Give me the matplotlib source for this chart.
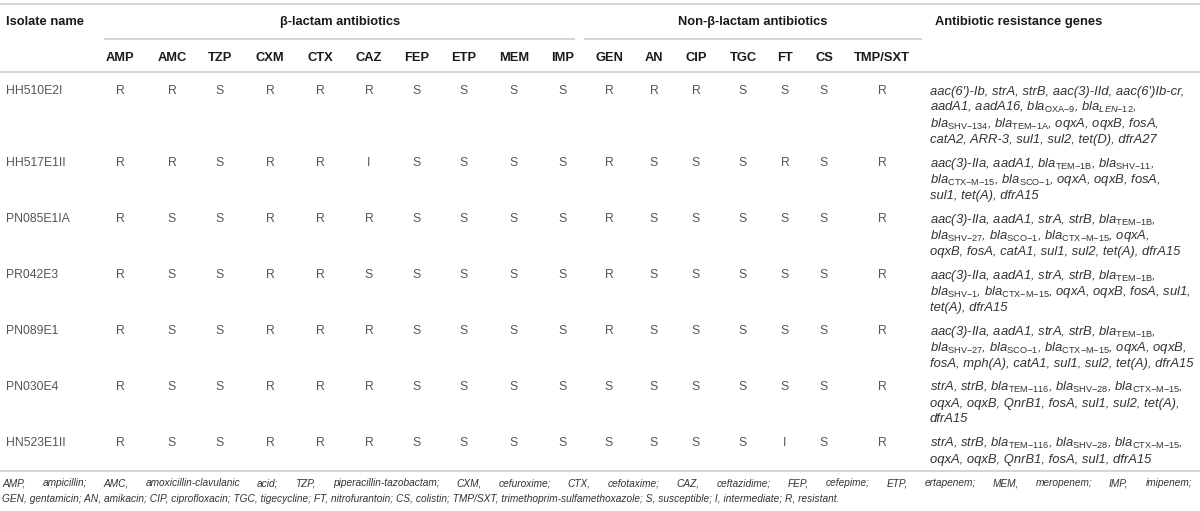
import matplotlib.pyplot as plt

plt.rcParams['font.family'] = ['Liberation Sans', 'DejaVu Sans']
plt.rcParams['mathtext.fontset'] = 'custom'
plt.rcParams['mathtext.rm'] = 'Liberation Sans'
plt.rcParams['mathtext.it'] = 'Liberation Sans:italic'
plt.rcParams['mathtext.bf'] = 'Liberation Sans:bold'

# ---- data ----
isolates = ["HH510E2I", "HH517E1II", "PN085E1IA", "PR042E3", "PN089E1", "PN030E4", "HN523E1II"]
beta_lactams = ["AMP", "AMC", "TZP", "CXM", "CTX", "CAZ", "FEP", "ETP", "MEM", "IMP"]
non_beta_lactams = ["GEN", "AN", "CIP", "TGC", "FT", "CS", "TMP/SXT"]
results = [
    "RRSRRRSSSS" + "RRRSSSR",
    "RRSRRISSSS" + "RSSSRSR",
    "RSSRRRSSSS" + "RSSSSSR",
    "RSSRRSSSSS" + "RSSSSSR",
    "RSSRRRSSSS" + "RSSSSSR",
    "RSSRRRSSSS" + "SSSSSSR",
    "RSSRRRSSSS" + "SSSSISR",
]
genes = [
    ["aac(6')-Ib, strA, strB, aac(3)-IId, aac(6')Ib-cr,",
     r"aadA1, aadA16, bla$_{\mathrm{OXA{-}9}}$, bla$_{\mathit{LEN{-}12}}$,",
     r"bla$_{\mathrm{SHV{-}134}}$, bla$_{\mathrm{TEM{-}1A}}$, oqxA, oqxB, fosA,",
     "catA2, ARR-3, sul1, sul2, tet(D), dfrA27"],
    [r"aac(3)-IIa, aadA1, bla$_{\mathrm{TEM{-}1B}}$, bla$_{\mathrm{SHV{-}11}}$,",
     r"bla$_{\mathrm{CTX{-}M{-}15}}$, bla$_{\mathrm{SCO{-}1}}$, oqxA, oqxB, fosA,",
     "sul1, tet(A), dfrA15"],
    [r"aac(3)-IIa, aadA1, strA, strB, bla$_{\mathrm{TEM{-}1B}}$,",
     r"bla$_{\mathrm{SHV{-}27}}$, bla$_{\mathrm{SCO{-}1}}$, bla$_{\mathrm{CTX{-}M{-}15}}$, oqxA,",
     "oqxB, fosA, catA1, sul1, sul2, tet(A), dfrA15"],
    [r"aac(3)-IIa, aadA1, strA, strB, bla$_{\mathrm{TEM{-}1B}}$,",
     r"bla$_{\mathrm{SHV{-}1}}$, bla$_{\mathrm{CTX{-}M{-}15}}$, oqxA, oqxB, fosA, sul1,",
     "tet(A), dfrA15"],
    [r"aac(3)-IIa, aadA1, strA, strB, bla$_{\mathrm{TEM{-}1B}}$,",
     r"bla$_{\mathrm{SHV{-}27}}$, bla$_{\mathrm{SCO{-}1}}$, bla$_{\mathrm{CTX{-}M{-}15}}$, oqxA, oqxB,",
     "fosA, mph(A), catA1, sul1, sul2, tet(A), dfrA15"],
    [r"strA, strB, bla$_{\mathrm{TEM{-}116}}$, bla$_{\mathrm{SHV{-}28}}$, bla$_{\mathrm{CTX{-}M{-}15}}$,",
     "oqxA, oqxB, QnrB1, fosA, sul1, sul2, tet(A),",
     "dfrA15"],
    [r"strA, strB, bla$_{\mathrm{TEM{-}116}}$, bla$_{\mathrm{SHV{-}28}}$, bla$_{\mathrm{CTX{-}M{-}15}}$,",
     "oqxA, oqxB, QnrB1, fosA, sul1, dfrA15"],
]
footnote = [
    "AMP, ampicillin; AMC, amoxicillin-clavulanic acid; TZP, piperacillin-tazobactam; CXM, cefuroxime; "
    "CTX, cefotaxime; CAZ, ceftazidime; FEP, cefepime; ETP, ertapenem; MEM, meropenem; IMP, imipenem;",
    "GEN, gentamicin; AN, amikacin; CIP, ciprofloxacin; TGC, tigecycline; FT, nitrofurantoin; CS, colistin; "
    "TMP/SXT, trimethoprim-sulfamethoxazole; S, susceptible; I, intermediate; R, resistant.",
]

# ---- layout ----
col_x = [120, 172, 220, 270, 320, 369, 417, 464, 514, 563,
         609, 654, 696, 743, 785, 824, 882]
gene_x = 930
gene_max_w = 264
line_h = 16
row_gap = 8
first_row = 90
grid_col = '#d2d2d2'
hdr = dict(fontweight='bold', fontsize=9.3, color='#1a1a1a')
body = dict(fontsize=8.8, color='#555555')

fig = plt.figure(figsize=(12, 5.11), dpi=100)
ax = fig.add_axes([0, 0, 1, 1])
ax.set_xlim(0, 1200)
ax.set_ylim(511, 0)
ax.axis('off')
renderer = fig.canvas.get_renderer()


def hline(y, x0=0, x1=1200):
    ax.plot([x0, x1], [y, y], color=grid_col, lw=1.3, solid_capstyle='butt')


hline(4)
hline(39, 104, 575)
hline(39, 584, 922)
hline(72)

ax.text(6, 25, "Isolate name", ha='left', va='baseline', **hdr)
ax.text(340, 25, "β-lactam antibiotics", ha='center', va='baseline', **hdr)
ax.text(753, 25, "Non-β-lactam antibiotics", ha='center', va='baseline', **hdr)
ax.text(935, 25, "Antibiotic resistance genes", ha='left', va='baseline', **hdr)
for x, name in zip(col_x, beta_lactams + non_beta_lactams):
    ax.text(x, 61, name, ha='center', va='baseline', **hdr)

# size the gene text so the widest line fits the column
probe = [ax.text(0, 0, s, style='italic', fontsize=10) for gl in genes for s in gl]
widest = max(t.get_window_extent(renderer).width for t in probe)
for t in probe:
    t.remove()
gene_fs = 10 * gene_max_w / widest

y = first_row
for iso, res, gl in zip(isolates, results, genes):
    base = y + 4.5
    ax.text(6, base, iso, ha='left', va='baseline', **body)
    for x, r in zip(col_x, res):
        ax.text(x, base, r, ha='center', va='baseline', **body)
    for k, line in enumerate(gl):
        ax.text(gene_x, base + k * line_h, line, ha='left', va='baseline',
                style='italic', fontsize=gene_fs, color='#333333')
    y += len(gl) * line_h + row_gap

bottom = y - row_gap - line_h + 13
hline(bottom)

# footnote: first line justified across the width, second line natural
foot_kw = dict(style='italic', fontsize=7.3, color='#333333', va='baseline')
fy = bottom + 15
words = footnote[0].split(' ')
arts = [ax.text(0, fy, w, ha='left', **foot_kw) for w in words]
widths = [a.get_window_extent(renderer).width for a in arts]
gap = (1192 - 2 - sum(widths)) / (len(words) - 1)
x = 2
for a, w in zip(arts, widths):
    a.set_x(x)
    x += w + gap
ax.text(2, fy + 15.5, footnote[1], ha='left', **foot_kw)

fig.savefig('out.png', dpi=100)
